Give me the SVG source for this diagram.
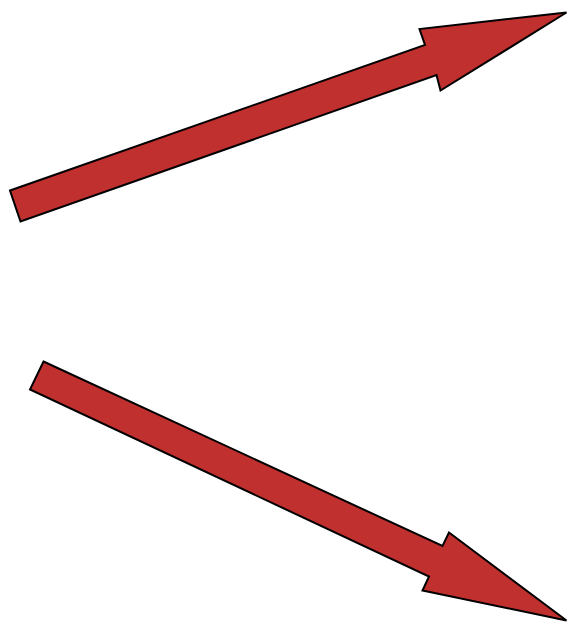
<svg xmlns="http://www.w3.org/2000/svg" width="568" height="627" viewBox="0 0 568 627">
<style>.arrow{fill:#c0302f;stroke:#000;stroke-width:2;stroke-linejoin:miter}</style>
<rect width="568" height="627" fill="#fff"/>
<g id="arrow-up"><polygon class="arrow" points="10,190.5 425,45 419.5,29 566.5,12.5 440.5,90.5 436.5,75 20.5,221.5"/></g>
<g id="arrow-down"><polygon class="arrow" points="43.5,361.5 442.5,546 449,532.5 566.5,620.5 422.5,590.5 429,576.5 30,389.5"/></g>
</svg>
